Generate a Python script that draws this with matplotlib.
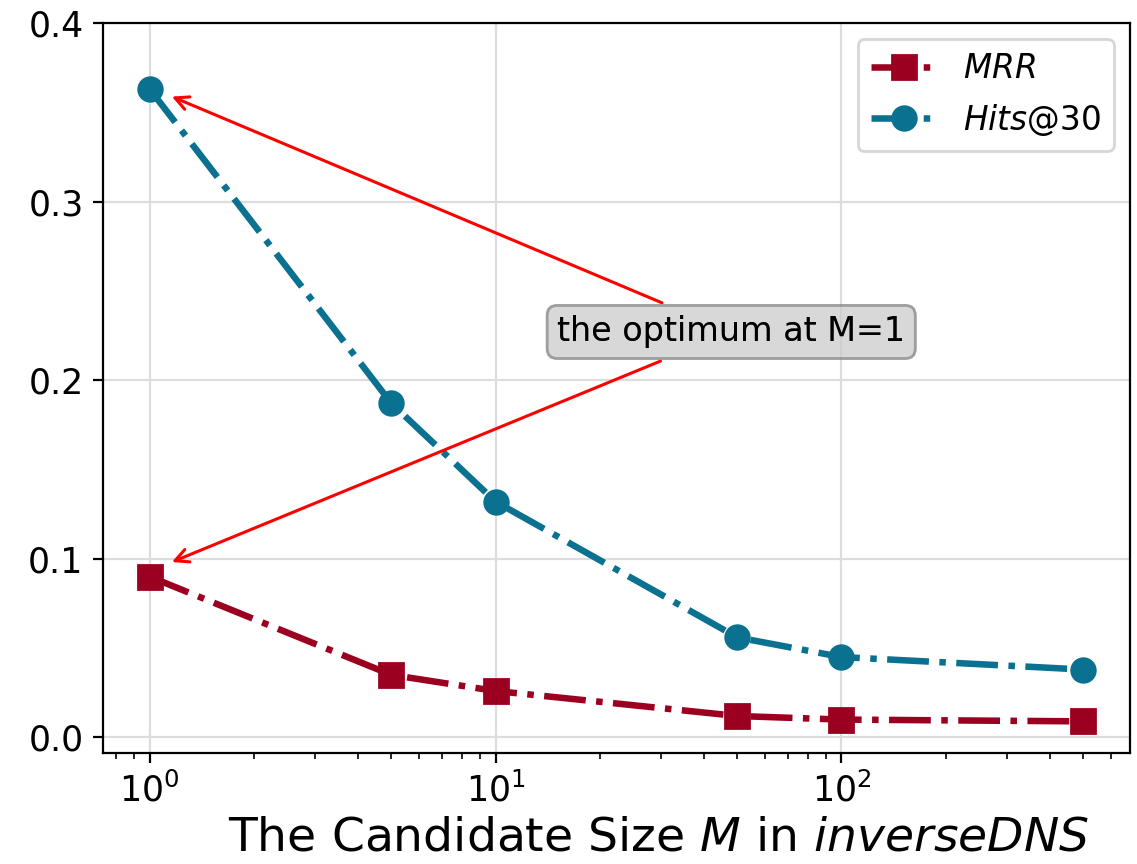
import matplotlib.pyplot as plt

# candidate size M and the two metrics
sizes = [1, 5, 10, 50, 100, 500]
mrr = [0.090, 0.035, 0.026, 0.012, 0.010, 0.009]
hits30 = [0.363, 0.187, 0.132, 0.056, 0.045, 0.038]

RED = '#9b0020'
TEAL = '#0a7190'

fig = plt.figure(figsize=(5.685, 4.32), dpi=200)
ax = fig.add_axes([0.0906, 0.1285, 0.9032, 0.8449])

LW = 2.35
MS = 8.5
ax.plot(sizes, mrr, '-.', marker='s', color=RED, lw=LW, ms=MS, label='$MRR$')
ax.plot(sizes, hits30, '-.', marker='o', color=TEAL, lw=LW, ms=MS, label='$Hits$@30')
ax.set_xscale('log')
ax.set_ylim(top=0.4)
ax.set_yticks([0.0, 0.1, 0.2, 0.3, 0.4])
ax.grid(True, color='#dddddd', lw=0.8)

ax.tick_params(labelsize=12.5)
ax.set_xlabel('The Candidate Size $M$ in $inverseDNS$', fontsize=17, labelpad=2.5)
ax.xaxis.label.set_x(0.541)

# two arrows sharing one text box
box = dict(boxstyle='round', fc='0.8', ec='0.5', alpha=0.5)
arrow = dict(arrowstyle='->', color='red', lw=1.1)
ax.annotate('the optimum at M=1', xy=(1.12, 0.36), xytext=(48, 0.227),
            ha='center', va='center', fontsize=12, bbox=box, arrowprops=arrow)
ax.annotate('the optimum at M=1', xy=(1.12, 0.097), xytext=(48, 0.227),
            ha='center', va='center', fontsize=12, bbox=box, arrowprops=arrow)

ax.legend(loc='upper right', fontsize=11.8)

fig.savefig('out.png', dpi=200)
